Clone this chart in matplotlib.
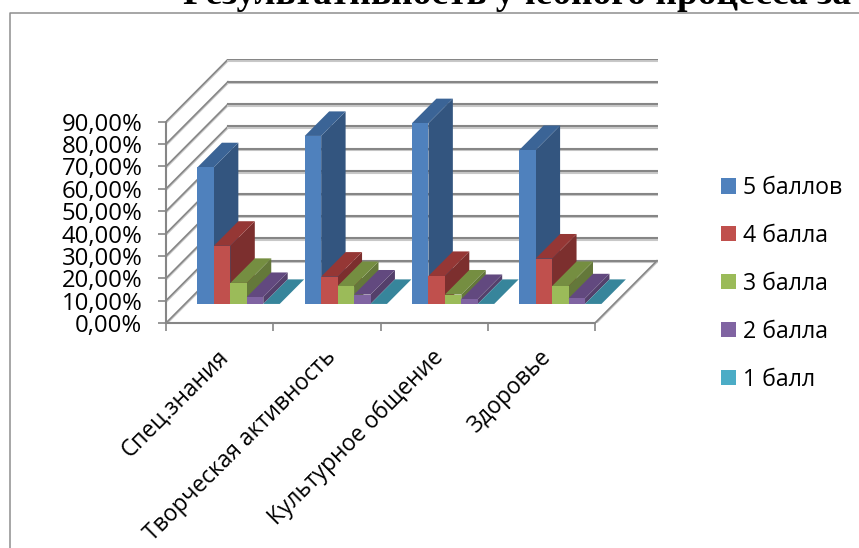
import matplotlib
matplotlib.use('Agg')
import matplotlib.pyplot as plt
import matplotlib.patheffects as pe
import numpy as np
from matplotlib.lines import Line2D
from matplotlib.patches import Patch

categories = ['Спец.знания', 'Творческая активность', 'Культурное общение', 'Здоровье']
series_names = ['5 баллов', '4 балла', '3 балла', '2 балла', '1 балл']
five = [61.1, 75.1, 80.8, 68.8]
four = [26.0, 12.2, 12.5, 20.3]
three = [9.4, 8.0, 4.2, 8.0]
two = [3.1, 4.2, 2.2, 2.5]
one = [0.0, 0.0, 0.0, 0.0]
ticks = [0, 10, 20, 30, 40, 50, 60, 70, 80, 90]
tick_labels = ['0,00%', '10,00%', '20,00%', '30,00%', '40,00%', '50,00%', '60,00%', '70,00%', '80,00%', '90,00%']

front_colors = ['#4F81BD', '#C0504D', '#9BBB59', '#8064A2', '#4BACC6']
side_colors = ['#33557F', '#7C2F2E', '#64783A', '#54406B', '#37859B']
top_colors = ['#3B6496', '#953735', '#758E41', '#62497F', '#37859B']
grid_color = '#868686'

plt.rcParams['font.family'] = ['Open Sans', 'DejaVu Sans']

W, H = 859, 548
px_cat = 107.25   # pixels per category
px_pct = 2.237    # pixels per percent
depth_x = 62 / px_cat     # oblique shift of the back wall, in data units
depth_y = 62.3 / px_pct
bar_d0 = 0.306    # front and back of the bars, as part of the depth
bar_d1 = 0.70
gap = 0.1166
bar_w = (1 - 2 * gap) / 5

fig = plt.figure(figsize=(W / 100, H / 100), dpi=100)
ax = fig.add_axes([166 / W, (H - 323) / H, 492 / W, 263.7 / H])
ax.set_xlim(0, 492 / px_cat)
ax.set_ylim(0, 263.7 / px_pct)
ax.patch.set_alpha(0)

# outer chart frame, runs off the page on the right and bottom
fig.add_artist(Line2D([9.5 / W, 9.5 / W, 1], [0, 1 - 13 / H, 1 - 13 / H], color='#8E8E8E', lw=1.1))

# the title is cut by the top of the page in the original too
fig.text(183 / W, 1 - 4 / H, 'Результативность учебного процесса за', family='Liberation Serif',
         weight='bold', fontsize=27, color='black', va='baseline', ha='left')

# soft shadow under the grid lines
shadow = [pe.SimpleLineShadow(offset=(0, -1.1), shadow_color='#c8c8c8', alpha=1), pe.Normal()]

# walls and floor
for v in ticks:
    ax.plot([0, depth_x], [v, v + depth_y], color=grid_color, lw=1.2, zorder=1, path_effects=shadow)
    ax.plot([depth_x, 4 + depth_x], [v + depth_y, v + depth_y], color=grid_color, lw=1.5, zorder=1,
            path_effects=shadow)
ax.plot([4, 4 + depth_x], [0, depth_y], color=grid_color, lw=1.2, zorder=1, path_effects=shadow)

values = [five, four, three, two, one]
z = 2
for c in range(len(categories)):
    for s in range(len(values)):
        v = values[s][c]
        x0 = c + gap + s * bar_w + bar_d0 * depth_x
        x1 = x0 + bar_w
        base = bar_d0 * depth_y
        sx = (bar_d1 - bar_d0) * depth_x
        sy = (bar_d1 - bar_d0) * depth_y
        ax.fill([x1, x1 + sx, x1 + sx, x1], [base, base + sy, base + sy + v, base + v],
                color=side_colors[s], lw=0, zorder=z)
        ax.fill([x0, x1, x1 + sx, x0 + sx], [base + v, base + v, base + v + sy, base + v + sy],
                color=top_colors[s], lw=0, zorder=z)
        ax.bar(x0, v, width=bar_w, bottom=base, align='edge', color=front_colors[s], lw=0, zorder=z)
        z += 1

for name in ['top', 'right']:
    ax.spines[name].set_visible(False)
ax.spines['left'].set_bounds(0, 90)
ax.spines['bottom'].set_bounds(0, 4)
ax.spines['left'].set_color(grid_color)
ax.spines['bottom'].set_color(grid_color)
ax.spines['left'].set_linewidth(1.5)
ax.spines['bottom'].set_linewidth(1.5)

ax.set_yticks(ticks)
ax.set_yticklabels(tick_labels, fontsize=17.2, color='black')
ax.tick_params(axis='y', length=5.5, width=1.2, color=grid_color, pad=11.5)
ax.set_xticks(np.arange(5))
ax.set_xticklabels([])
ax.tick_params(axis='x', which='major', length=5.5, width=1.2, color=grid_color)
ax.set_xticks(np.arange(4) + 0.55, minor=True)
ax.set_xticklabels(categories, minor=True, rotation=45, ha='right', va='center',
                   rotation_mode='anchor', fontsize=16.4, color='black')
ax.tick_params(axis='x', which='minor', length=0, pad=22)

handles = [Patch(color=c, lw=0) for c in front_colors]
fig.legend(handles, series_names, loc='upper left', bbox_to_anchor=(721 / W, 1 - 176 / H), frameon=False,
           fontsize=16.7, handlelength=0.65, handleheight=0.65, handletextpad=0.3, labelspacing=1.03,
           borderpad=0, borderaxespad=0)

fig.savefig('out.png', dpi=100)
